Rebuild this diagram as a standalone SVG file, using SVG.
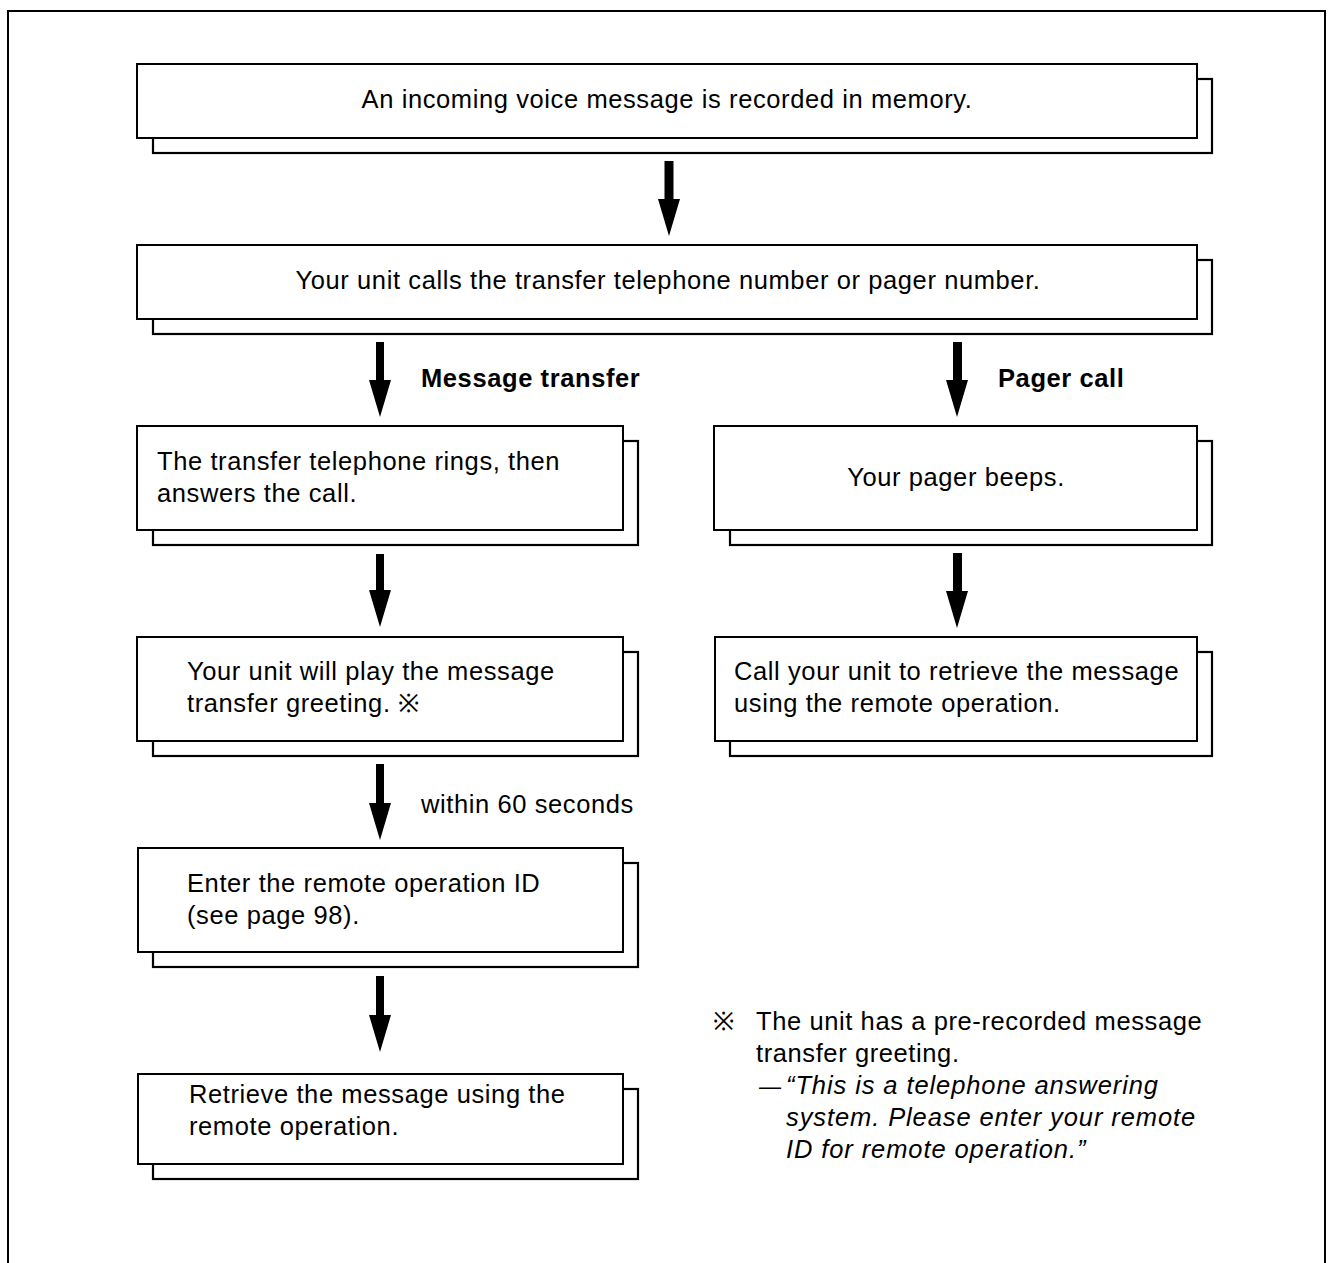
<svg xmlns="http://www.w3.org/2000/svg" width="1330" height="1263" viewBox="0 0 1330 1263">
<style>
.f{fill:#fff;stroke:#000;stroke-width:2}
.b{fill:#fff;stroke:#000;stroke-width:2.2}
.t{font-family:"Liberation Sans",Arial,sans-serif;font-size:25.5px;letter-spacing:0.6px;fill:#000}
.bold{font-weight:bold}
.it{font-style:italic;letter-spacing:0.9px}
.ar{fill:#000}
</style>
<rect width="1330" height="1263" fill="#fff"/>
<path d="M8,1263 L8,11 L1325,11 L1325,1263" fill="none" stroke="#000" stroke-width="2"/>

<g id="n1">
<rect class="b" x="153" y="79" width="1059" height="74"/>
<rect class="f" x="137" y="64" width="1060" height="74"/>
<text class="t" x="667" y="108" text-anchor="middle">An incoming voice message is recorded in memory.</text>
</g>
<g id="n2">
<rect class="b" x="153" y="260" width="1059" height="74"/>
<rect class="f" x="137" y="245" width="1060" height="74"/>
<text class="t" x="668" y="289" text-anchor="middle">Your unit calls the transfer telephone number or pager number.</text>
</g>
<g id="n3">
<rect class="b" x="153" y="441" width="485" height="104"/>
<rect class="f" x="137" y="426" width="486" height="104"/>
<text class="t" x="157" y="470">The transfer telephone rings, then</text>
<text class="t" x="157" y="502">answers the call.</text>
</g>
<g id="n4">
<rect class="b" x="730" y="441" width="482" height="104"/>
<rect class="f" x="714" y="426" width="483" height="104"/>
<text class="t" x="956" y="486" text-anchor="middle">Your pager beeps.</text>
</g>
<g id="n5">
<rect class="b" x="153" y="652" width="485" height="104"/>
<rect class="f" x="137" y="637" width="486" height="104"/>
<text class="t" x="187" y="680">Your unit will play the message</text>
<text class="t" x="187" y="712">transfer greeting. ※</text>
</g>
<g id="n6">
<rect class="b" x="730" y="652" width="482" height="104"/>
<rect class="f" x="715" y="637" width="482" height="104"/>
<text class="t" x="734" y="680">Call your unit to retrieve the message</text>
<text class="t" x="734" y="712">using the remote operation.</text>
</g>
<g id="n7">
<rect class="b" x="153" y="863" width="485" height="104"/>
<rect class="f" x="138" y="848" width="485" height="104"/>
<text class="t" x="187" y="892">Enter the remote operation ID</text>
<text class="t" x="187" y="924">(see page 98).</text>
</g>
<g id="n8">
<rect class="b" x="153" y="1089" width="485" height="90"/>
<rect class="f" x="138" y="1074" width="485" height="90"/>
<text class="t" x="189" y="1103">Retrieve the message using the</text>
<text class="t" x="189" y="1135">remote operation.</text>
</g>

<g id="connectors">
<path class="ar" d="M664.5,161 L673.5,161 L673.5,199 L680,199 L669,236 L658,199 L664.5,199 Z"/>
<path class="ar" d="M376,342 L384,342 L384,380 L391,380 L380,417 L369,380 L376,380 Z"/>
<path class="ar" d="M953,342 L962,342 L962,380 L968,380 L957,417 L946,380 L953,380 Z"/>
<path class="ar" d="M376,554 L384,554 L384,590 L391,590 L380,627 L369,590 L376,590 Z"/>
<path class="ar" d="M953,553 L962,553 L962,591 L968,591 L957,628 L946,591 L953,591 Z"/>
<path class="ar" d="M376,764 L384,764 L384,803 L391,803 L380,840 L369,803 L376,803 Z"/>
<path class="ar" d="M376,976 L384,976 L384,1015 L391,1015 L380,1052 L369,1015 L376,1015 Z"/>
</g>

<text class="t bold" x="421" y="387">Message transfer</text>
<text class="t bold" x="998" y="387">Pager call</text>
<text class="t" x="421" y="813">within 60 seconds</text>

<g id="note">
<text class="t" x="713" y="1030">※</text>
<text class="t" x="756" y="1030">The unit has a pre-recorded message</text>
<text class="t" x="756" y="1062">transfer greeting.</text>
<text class="t" x="759" y="1094" style="font-size:22px">—</text>
<text class="t it" x="786" y="1094">“This is a telephone answering</text>
<text class="t it" x="786" y="1126">system. Please enter your remote</text>
<text class="t it" x="786" y="1158">ID for remote operation.”</text>
</g>
</svg>
